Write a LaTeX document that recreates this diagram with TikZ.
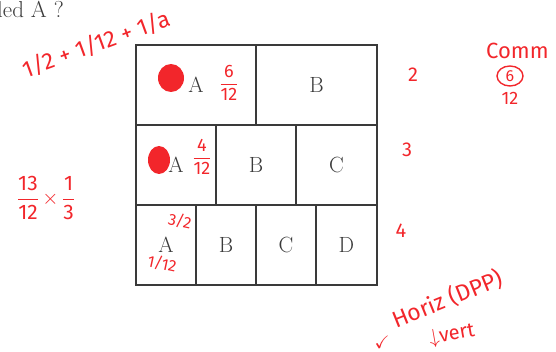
\documentclass[tikz,border=0pt]{standalone}
\usepackage{amssymb}
\usepackage{fontspec}
\usepackage{tikz}
\usetikzlibrary{positioning, shapes.geometric}
\newfontfamily\handfont{Fira Sans}
\definecolor{pen}{HTML}{F2262B}
\definecolor{ink}{HTML}{3A3A3A}
\newcommand{\hfrac}[2]{$\displaystyle\frac{\mbox{#1}}{\mbox{#2}}$}

\begin{document}
\begin{tikzpicture}[x=1pt, y=-1pt,
    cell/.style={rectangle, draw=ink, line width=1.6pt, inner sep=0pt, minimum height=80pt,
      font=\fontsize{22}{24}\selectfont, text=ink},
    hand/.style={text=pen, font=\handfont\fontsize{20}{21}\selectfont, inner sep=0pt},
    small/.style={hand, font=\handfont\fontsize{16}{17}\selectfont},
    big/.style={hand, font=\handfont\fontsize{23}{24}\selectfont},
    blob/.style={ellipse, fill=pen, minimum width=26pt, minimum height=28pt, inner sep=0pt}
]
    \useasboundingbox (0,0) rectangle (556,352);

    \node[anchor=base west, inner sep=0pt, font=\fontsize{23}{24}\selectfont, text=ink] (question) at (-3,18) {led A ?};

    % the three rows of the square
    \node[cell, minimum width=120pt] (a1) at (196,85) {A};
    \node[cell, minimum width=121pt] (b1) at (316.5,85) {B};

    \node[cell, minimum width=80pt] (a2) at (176,165) {A};
    \node[cell, minimum width=80pt] (b2) at (256,165) {B};
    \node[cell, minimum width=81pt] (c2) at (336.5,165) {C};

    \node[cell, minimum width=60pt] (a3) at (166,245) {A};
    \node[cell, minimum width=60pt] (b3) at (226,245) {B};
    \node[cell, minimum width=60pt] (c3) at (286,245) {C};
    \node[cell, minimum width=61pt] (d3) at (346.5,245) {D};

    % red marks of the marker
    \node[big, rotate=20] (sum) at (96,44) {1/2 + 1/12 + 1/a};
    \node[blob] (blob1) at (171,78) {};
    \node[blob, minimum width=22pt] (blob2) at (159,160) {};
    \node[hand, font=\handfont\fontsize{18}{19}\selectfont] (frac1) at (229,83) {\hfrac{6}{12}};
    \node[hand, font=\handfont\fontsize{18}{19}\selectfont] (frac2) at (202,157) {\hfrac{4}{12}};
    \node[small, rotate=-12] (frac3) at (180,221) {3/2};
    \node[small, rotate=-12] (frac4) at (162,264) {1/12};

    \node[hand, font=\handfont\fontsize{21}{22}\selectfont] (mean) at (46,198) {\hfrac{13}{12}\,$\times$\,\hfrac{1}{3}};

    \node[hand] (row1) at (413,75) {2};
    \node[hand] (row2) at (407,150) {3};
    \node[hand] (row3) at (401,231) {4};

    \node[hand, font=\handfont\fontsize{22}{23}\selectfont, anchor=west] (comm) at (486,51) {Comm};
    \node[small, ellipse, draw=pen, line width=1.4pt, minimum width=26pt, minimum height=20pt] (six) at (510,76) {6};
    \node[small, font=\handfont\fontsize{18}{19}\selectfont] (twelve) at (510,98) {12};

    \node[hand, font=\fontsize{18}{19}\selectfont] (tick) at (382,342) {\checkmark};
    \node[big, rotate=22, anchor=west] (horiz) at (393,321) {Horiz (DPP)};
    \node[hand, rotate=10, anchor=west] (vert) at (429,339) {$\downarrow$vert};
\end{tikzpicture}
\end{document}
